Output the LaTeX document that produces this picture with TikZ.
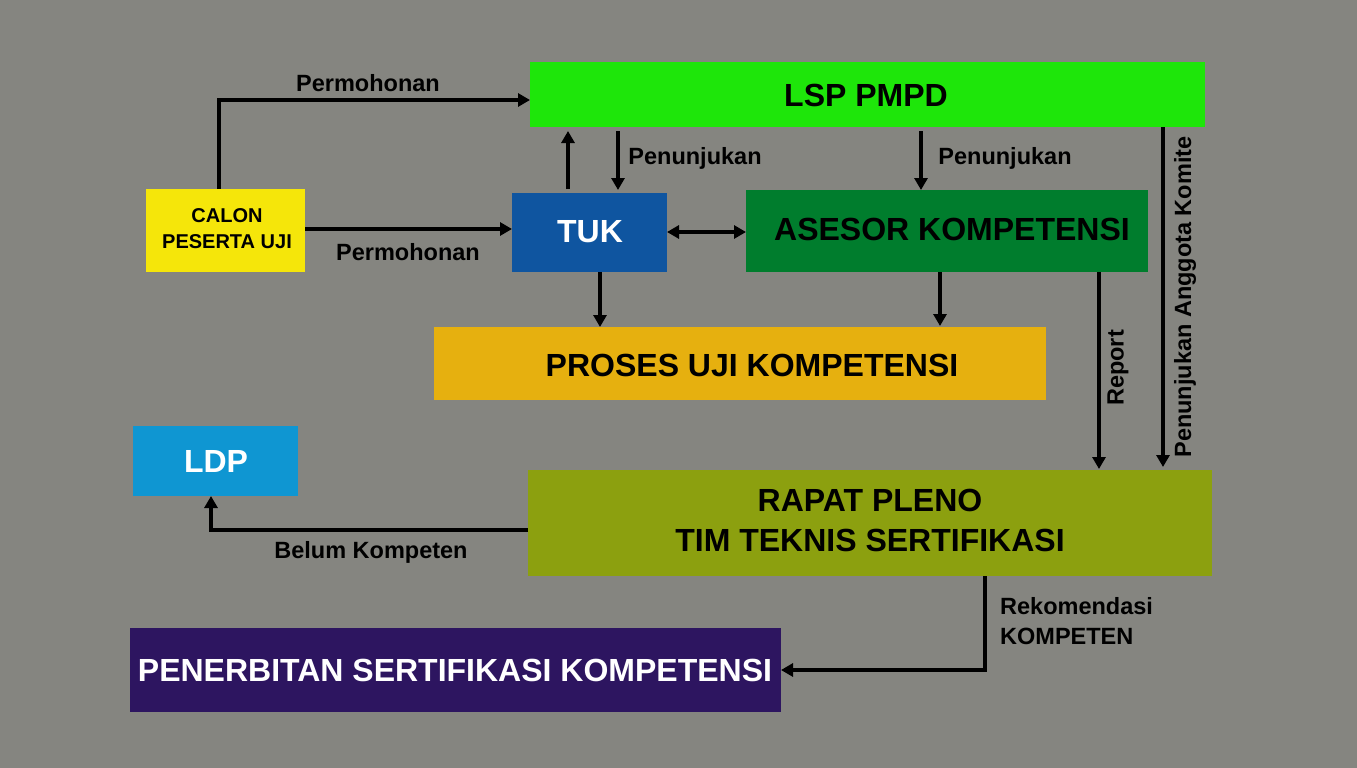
\documentclass[tikz,border=0pt]{standalone}
\usepackage{fontspec}
\setmainfont{Liberation Sans}
\usetikzlibrary{arrows.meta}
\definecolor{bg}{HTML}{858580}
\definecolor{lsp}{HTML}{1EE60A}
\definecolor{calon}{HTML}{F5E60A}
\definecolor{tuk}{HTML}{0F55A0}
\definecolor{asesor}{HTML}{007D2D}
\definecolor{proses}{HTML}{E6B00F}
\definecolor{ldp}{HTML}{0F96D2}
\definecolor{rapat}{HTML}{8CA00F}
\definecolor{terbit}{HTML}{2D1560}
\tikzset{
  box/.style={draw=none,inner sep=0pt,font=\bfseries\fontsize{32}{38}\selectfont,align=center},
  arr/.style={line width=3.6pt,-{Triangle[length=12pt,width=13pt]}},
  darr/.style={line width=3.6pt,{Triangle[length=12pt,width=13pt]}-{Triangle[length=12pt,width=13pt]}},
  lbl/.style={font=\bfseries\fontsize{23.5}{28}\selectfont,inner sep=0pt}
}
\begin{document}
\begin{tikzpicture}[x=1pt,y=-1pt]
\fill[bg] (0,0) rectangle (1357,768);
\useasboundingbox (0,0) rectangle (1357,768);
\fill[lsp] (530,62) rectangle (1205,127);
\node[box] (lsp) at (866,95) {LSP PMPD};
\fill[calon] (146,189) rectangle (305,272);
\node[box,font=\bfseries\fontsize{20}{26}\selectfont] (calon) at (227,229) {CALON\\PESERTA UJI};
\fill[tuk] (512,193) rectangle (667,272);
\node[box,text=white] (tuk) at (590,232) {TUK};
\fill[asesor] (746,190) rectangle (1148,272);
\node[box] (asesor) at (952,229) {ASESOR KOMPETENSI};
\fill[proses] (434,327) rectangle (1046,400);
\node[box] (proses) at (752,365) {PROSES UJI KOMPETENSI};
\fill[ldp] (133,426) rectangle (298,496);
\node[box,text=white] (ldp) at (216,461) {LDP};
\fill[rapat] (528,470) rectangle (1212,576);
\node[box,font=\bfseries\fontsize{32}{40}\selectfont] (rapat) at (870,520) {RAPAT PLENO\\TIM TEKNIS SERTIFIKASI};
\fill[terbit] (130,628) rectangle (781,712);
\node[box,text=white] (terbit) at (455,670) {PENERBITAN SERTIFIKASI KOMPETENSI};

\coordinate (c1) at (219,189); \coordinate (c2) at (219,100); \coordinate (l1) at (530,100);
\draw[arr] (c1) -- (c2) -- (l1);
\node[lbl] (p1) at (368,83) {Permohonan};
\coordinate (c3) at (305,229); \coordinate (t1) at (512,229);
\draw[arr] (c3) -- (t1);
\node[lbl] (p2) at (408,252) {Permohonan};
\coordinate (t2) at (568,189); \coordinate (l2) at (568,131);
\draw[arr] (t2) -- (l2);
\coordinate (l3) at (618,131); \coordinate (t3) at (618,190);
\draw[arr] (l3) -- (t3);
\node[lbl] (pn1) at (695,158) {Penunjukan};
\coordinate (l4) at (921,131); \coordinate (a1) at (921,190);
\draw[arr] (l4) -- (a1);
\node[lbl] (pn2) at (1005,158) {Penunjukan};
\coordinate (t4) at (667,232); \coordinate (a2) at (746,232);
\draw[darr] (t4) -- (a2);
\coordinate (t5) at (600,272); \coordinate (pr1) at (600,327);
\draw[arr] (t5) -- (pr1);
\coordinate (a3) at (940,272); \coordinate (pr2) at (940,326);
\draw[arr] (a3) -- (pr2);
\coordinate (a4) at (1099,272); \coordinate (r1) at (1099,469);
\draw[arr] (a4) -- (r1);
\node[lbl,rotate=90] (rep) at (1118,368) {Report};
\coordinate (l5) at (1163,127); \coordinate (r2) at (1163,467);
\draw[arr] (l5) -- (r2);
\node[lbl,rotate=90] (komite) at (1185,297) {Penunjukan Anggota Komite};
\coordinate (r3) at (528,530); \coordinate (r4) at (211,530); \coordinate (ld1) at (211,496);
\draw[arr] (r3) -- (r4) -- (ld1);
\node[lbl] (bk) at (371,552) {Belum Kompeten};
\coordinate (r5) at (985,576); \coordinate (r6) at (985,670); \coordinate (te1) at (781,670);
\draw[arr] (r5) -- (r6) -- (te1);
\node[lbl,align=left,anchor=west,font=\bfseries\fontsize{23.5}{30}\selectfont] (rk) at (1000,621) {Rekomendasi\\KOMPETEN};
\end{tikzpicture}
\end{document}
